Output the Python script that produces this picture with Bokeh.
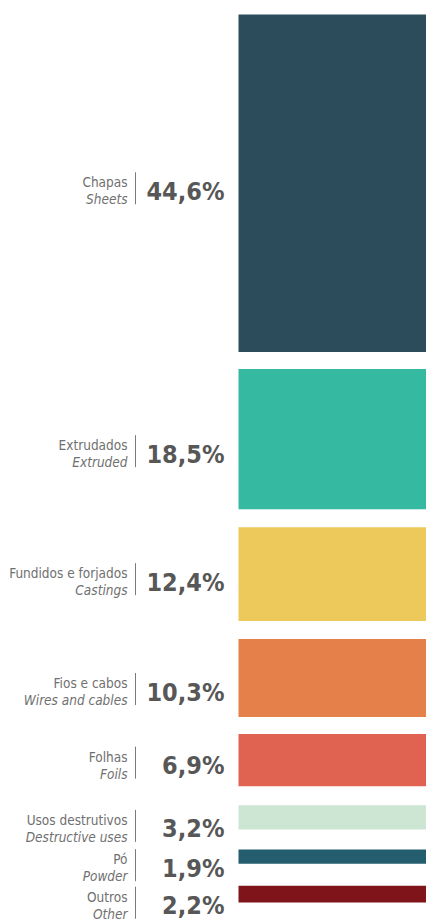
from bokeh.plotting import figure
from bokeh.models import Range1d, ColumnDataSource
from bokeh.core.properties import value
from bokeh.embed import file_html
from bokeh.resources import INLINE

# ---- data ----
categories_pt = ["Chapas", "Extrudados", "Fundidos e forjados", "Fios e cabos",
                 "Folhas", "Usos destrutivos", "Pó", "Outros"]
categories_en = ["Sheets", "Extruded", "Castings", "Wires and cables",
                 "Foils", "Destructive uses", "Powder", "Other"]
shares = [44.6, 18.5, 12.4, 10.3, 6.9, 3.2, 1.9, 2.2]
colors = ["#2c4c5c", "#35b9a1", "#edc85b", "#e5804a",
          "#e06251", "#cde6d3", "#235d6e", "#7f151a"]

# ---- layout constants (picture pixels) ----
W, H = 426, 919
PX_PER_PCT = 7.57
TOP = 14
gaps = [17, 18, 18, 17, 19, 20, 22]
label_shift = [5, 12, 5, 11, 2.5, 8.5, 8.5, 8.5]
BAR_LEFT, BAR_RIGHT = 238, 430
LABEL_X, SEP_X, PCT_X = 127, 135, 224
LABEL_FONT = value("DejaVu Sans Condensed")

tops, bottoms = [], []
y = TOP
for i, v in enumerate(shares):
    tops.append(y)
    y = y + v * PX_PER_PCT
    bottoms.append(y)
    if i < len(gaps):
        y += gaps[i]

centers = [(t + b) / 2 + s for t, b, s in zip(tops, bottoms, label_shift)]
pct_labels = [f"{v:.1f}".replace(".", ",") + "%" for v in shares]

src = ColumnDataSource(dict(
    top=tops, bottom=bottoms, color=colors,
    left=[BAR_LEFT] * len(shares), right=[BAR_RIGHT] * len(shares),
    pt=categories_pt, en=categories_en, pct=pct_labels,
    lx=[LABEL_X] * len(shares), px=[PCT_X] * len(shares),
    sx=[SEP_X] * len(shares),
    pt_y=[c - 6 for c in centers], en_y=[c + 11 for c in centers],
    pct_y=[c + 3 for c in centers],
    s0=[c - 16 for c in centers], s1=[c + 16 for c in centers],
))

p = figure(width=W, height=H, output_backend="svg", toolbar_location=None,
           x_range=Range1d(0, W), y_range=Range1d(H, 0),
           min_border=0, outline_line_color=None)
p.axis.visible = False
p.grid.visible = False
p.background_fill_color = "white"
p.border_fill_color = "white"

p.quad(left="left", right="right", top="top", bottom="bottom",
       fill_color="color", line_color=None, source=src)

p.text(x="lx", y="pt_y", text="pt", source=src, text_align="right",
       text_baseline="alphabetic", text_font=LABEL_FONT,
       text_font_size="13.5px", text_color="#707070")
p.text(x="lx", y="en_y", text="en", source=src, text_align="right",
       text_baseline="alphabetic", text_font=LABEL_FONT,
       text_font_style="italic", text_font_size="13.5px", text_color="#707070")
p.segment(x0="sx", y0="s0", x1="sx", y1="s1", source=src,
          line_color="#7a7a7a", line_width=1)
p.text(x="px", y="pct_y", text="pct", source=src, text_align="right",
       text_baseline="alphabetic", text_font=value("DejaVu Sans Condensed"),
       text_font_style="bold", text_font_size="25px", text_color="#575757")

open("out.html", "w").write(file_html(p, INLINE))
